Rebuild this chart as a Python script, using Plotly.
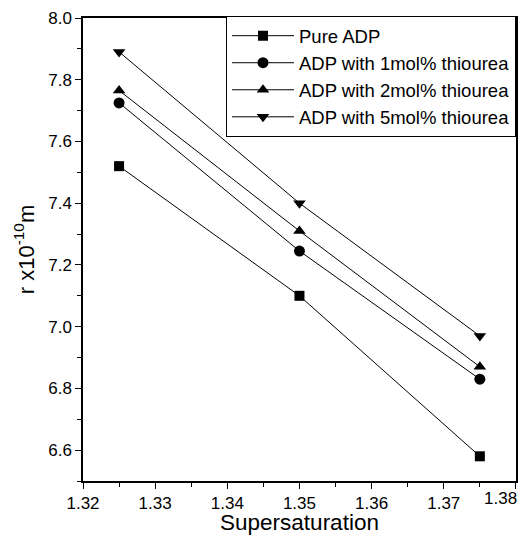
import plotly.graph_objects as go

supersaturation = [1.325, 1.35, 1.375]
pure_adp = [7.52, 7.10, 6.58]
adp_1mol = [7.725, 7.245, 6.83]
adp_2mol = [7.765, 7.31, 6.87]
adp_5mol = [7.89, 7.40, 6.97]

x_tickvals = [1.32, 1.33, 1.34, 1.35, 1.36, 1.37, 1.38]
x_ticktext = ["1.32", "1.33", "1.34", "1.35", "1.36", "1.37", ""]
last_tick_label = "1.38"

series = [
    ("Pure ADP", pure_adp, "square", 10),
    ("ADP with 1mol% thiourea", adp_1mol, "circle", 11),
    ("ADP with 2mol% thiourea", adp_2mol, "triangle-up", 11),
    ("ADP with 5mol% thiourea", adp_5mol, "triangle-down", 11),
]

fig = go.Figure()
for i, (name, ys, sym, sz) in enumerate(series):
    fig.add_trace(go.Scatter(
        x=supersaturation, y=ys, name=name, mode="lines+markers",
        legendgroup="g%d" % i,
        line=dict(color="black", width=1),
        marker=dict(symbol=sym, size=sz, color="black"),
    ))

# last x tick label, right-aligned so it stays inside the page like the reference
fig.add_annotation(
    text=last_tick_label, xref="paper", x=1, yref="paper", y=0,
    xanchor="right", yanchor="top", xshift=2, yshift=-7, showarrow=False,
    font=dict(size=17), borderpad=0,
)

font = "Liberation Sans, Arial, sans-serif"
# the page body adds an 8px margin on every side, so the figure is sized to fit inside it
fig.update_layout(
    width=510, height=527,
    margin=dict(l=75, r=2, t=10, b=54, autoexpand=False),
    paper_bgcolor="white", plot_bgcolor="white",
    font=dict(family=font, color="black", size=17),
    showlegend=True,
    legend=dict(
        x=1, y=1.004, xanchor="right", yanchor="top",
        bordercolor="black", borderwidth=1, bgcolor="white",
        font=dict(size=18.5), tracegroupgap=0, itemwidth=62,
    ),
    xaxis=dict(
        range=[1.32, 1.38001], tickvals=x_tickvals, ticktext=x_ticktext,
        automargin=False,
        showline=True, linecolor="black", linewidth=1.5, mirror=True,
        ticks="outside", ticklen=6, tickcolor="black",
        minor=dict(dtick=0.005, tick0=1.32, ticks="outside", ticklen=4, tickcolor="black"),
        showgrid=False, zeroline=False,
        title=dict(text="Supersaturation", font=dict(size=22.5), standoff=12),
    ),
    yaxis=dict(
        range=[6.5, 8.0], dtick=0.2, tick0=6.6, tickformat=".1f",
        automargin=False,
        showline=True, linecolor="black", linewidth=1.5, mirror=True,
        ticks="outside", ticklen=6, tickcolor="black",
        minor=dict(dtick=0.1, ticks="outside", ticklen=4, tickcolor="black"),
        showgrid=False, zeroline=False,
        title=dict(text="r x10<sup>-10</sup>m", font=dict(size=22), standoff=8),
    ),
)

fig.write_html("out.html")
